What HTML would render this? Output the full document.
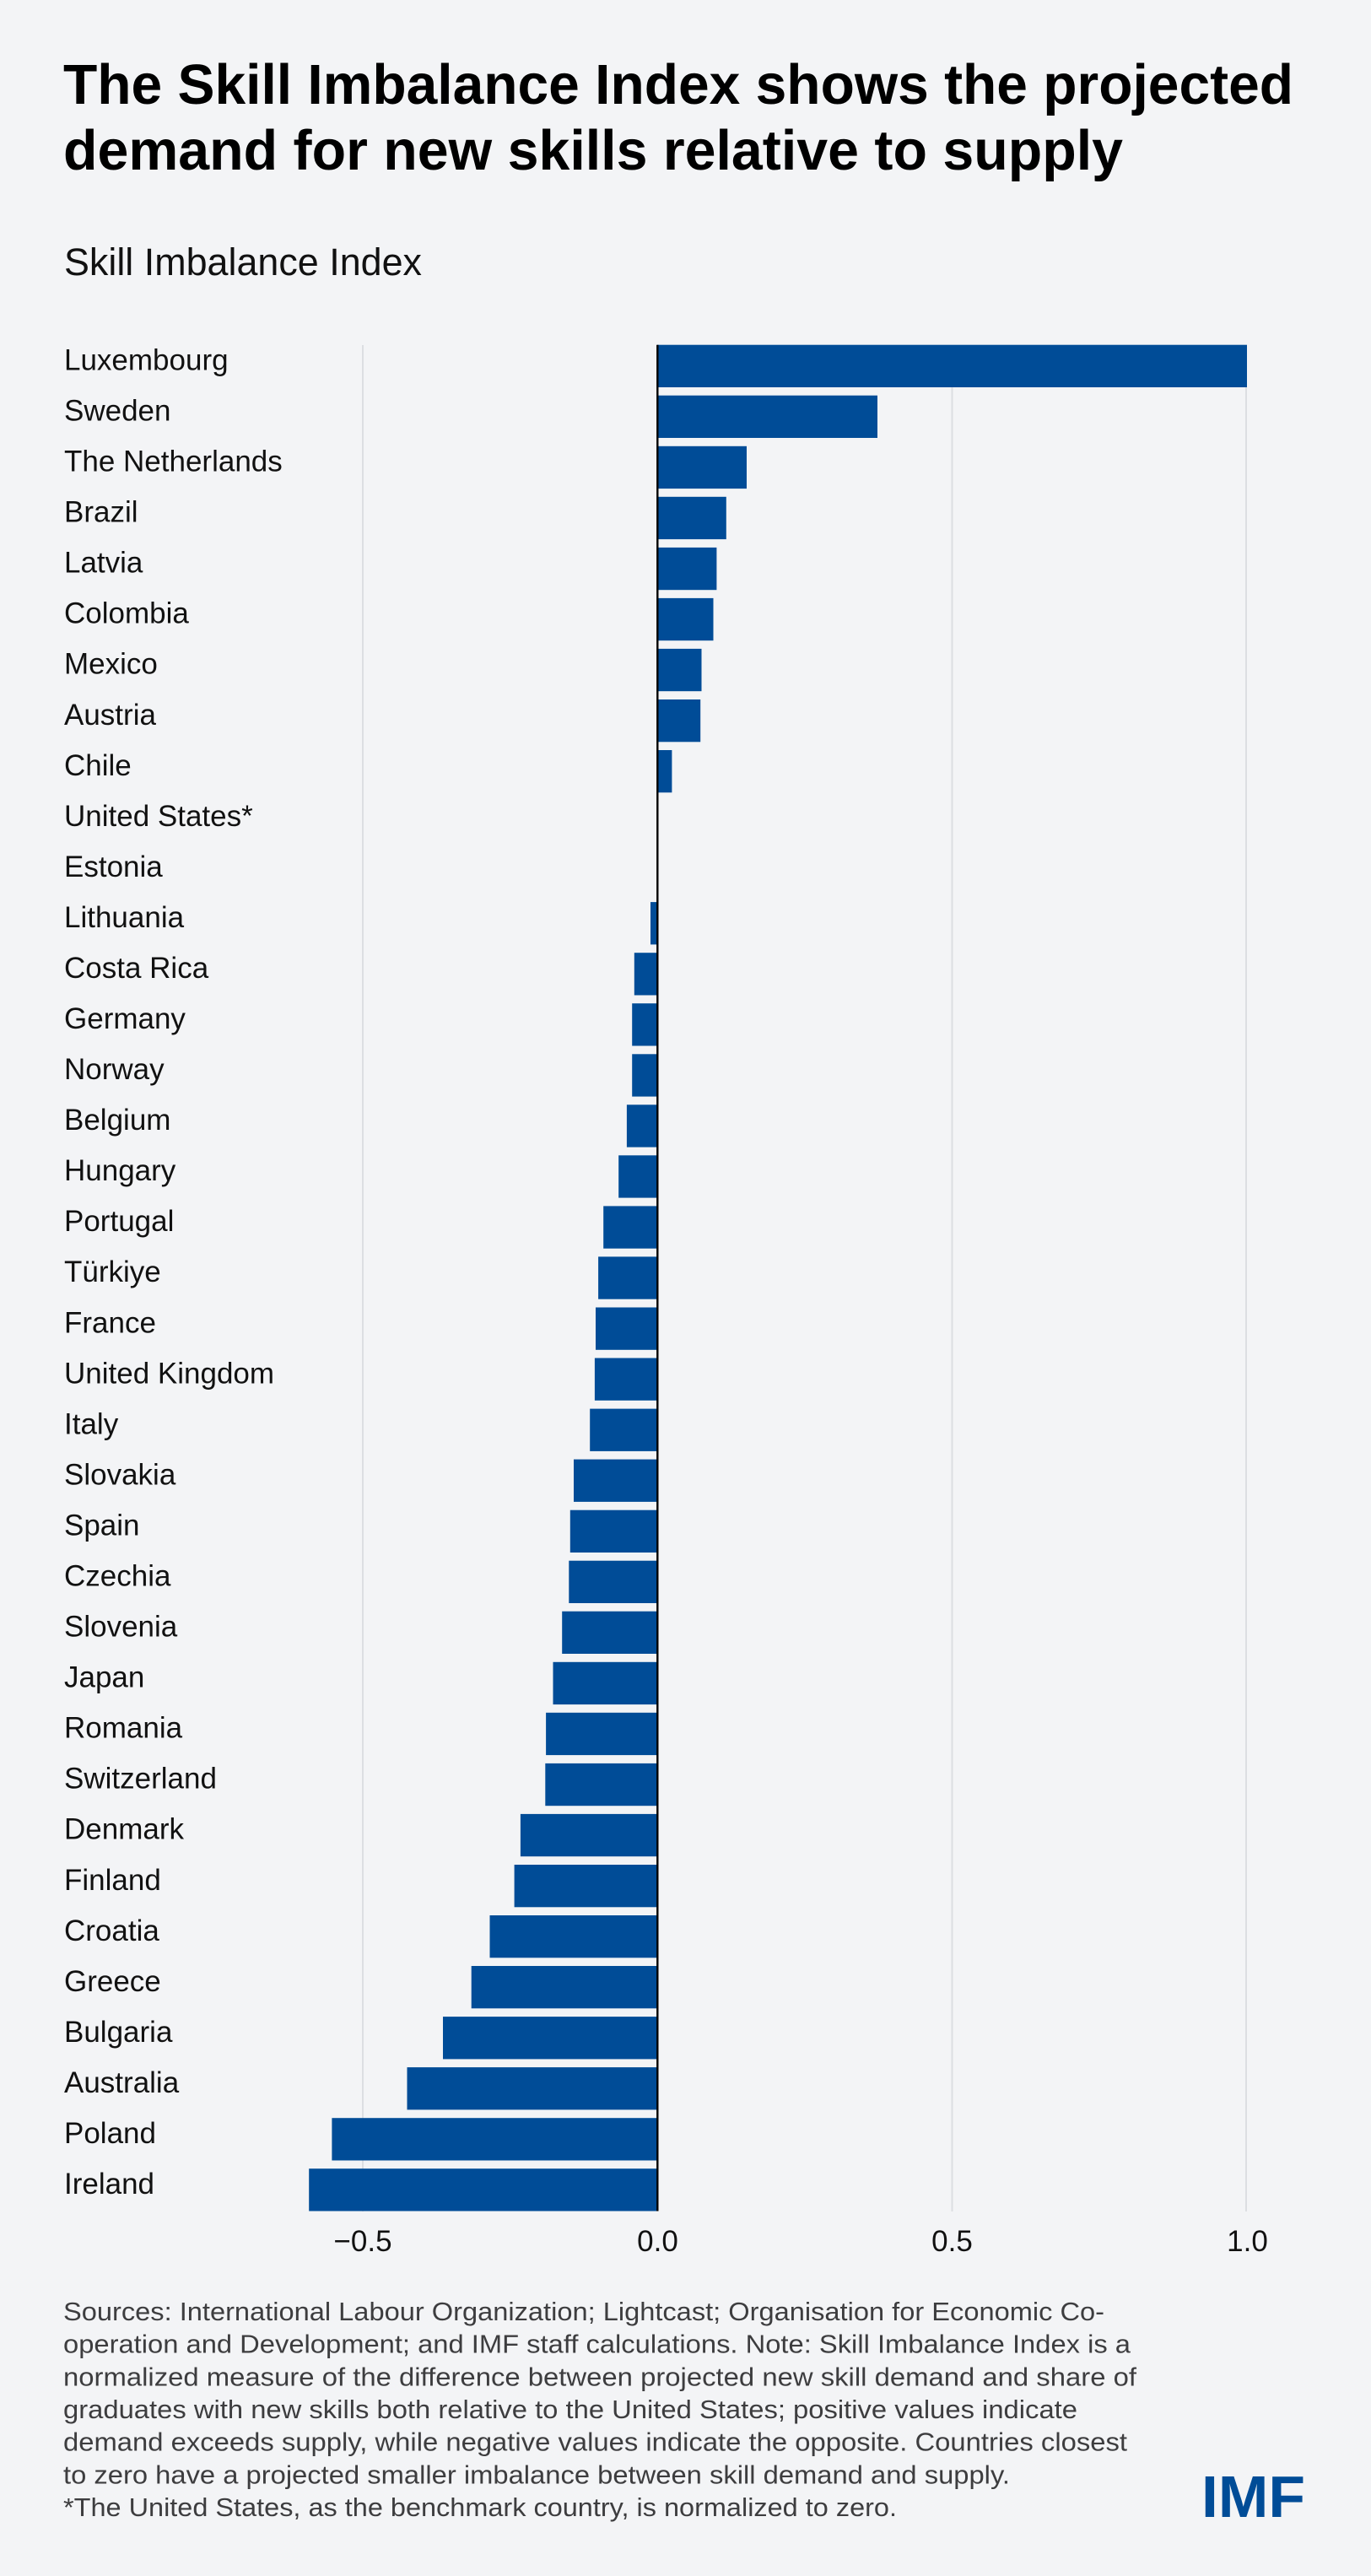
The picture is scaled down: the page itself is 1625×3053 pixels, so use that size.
<!DOCTYPE html>
<html>
<head>
<meta charset="utf-8">
<style>
  html, body { margin: 0; padding: 0; background: #f3f4f6; }
  body { width: 1625px; height: 3053px; overflow: hidden; }
  svg { display: block; }
  .lbl { font-family: "Liberation Sans", "DejaVu Sans", sans-serif; font-size: 35px; fill: #111111; }
  .tick { font-family: "Liberation Sans", "DejaVu Sans", sans-serif; font-size: 35px; fill: #111111; text-anchor: middle; }
  .foot { font-family: "Liberation Sans", "DejaVu Sans", sans-serif; font-size: 31px; fill: #3d3d3f; }
  .title { font-family: "Liberation Sans", "DejaVu Sans", sans-serif; font-size: 67px; font-weight: bold; fill: #000000; }
  .sub { font-family: "Liberation Sans", "DejaVu Sans", sans-serif; font-size: 45px; fill: #111111; }
  .imf { font-family: "Liberation Sans", "DejaVu Sans", sans-serif; font-size: 70px; font-weight: bold; fill: #004c97; }
</style>
</head>
<body>
<svg width="1625" height="3053" viewBox="0 0 1625 3053" xmlns="http://www.w3.org/2000/svg">
  <rect x="0" y="0" width="1625" height="3053" fill="#f3f4f6"/>

  <!-- Title -->
  <text class="title" x="75" y="123" textLength="1458" lengthAdjust="spacingAndGlyphs">The Skill Imbalance Index shows the projected</text>
  <text class="title" x="75" y="201" textLength="1256" lengthAdjust="spacingAndGlyphs">demand for new skills relative to supply</text>

  <!-- Subtitle -->
  <text class="sub" x="76" y="326" textLength="424" lengthAdjust="spacingAndGlyphs">Skill Imbalance Index</text>

  <!-- Gridlines -->
  <g stroke="#dcdee2" stroke-width="2">
    <line x1="430" y1="409" x2="430" y2="2621"/>
    <line x1="1128.5" y1="409" x2="1128.5" y2="2621"/>
    <line x1="1477" y1="409" x2="1477" y2="2621"/>
  </g>

  <!-- Bars -->
  <g fill="#004c97">
    <rect x="779" y="408.7" width="699" height="50.3"/>
    <rect x="779" y="468.7" width="261" height="50.3"/>
    <rect x="779" y="528.8" width="106" height="50.3"/>
    <rect x="779" y="588.8" width="81.8" height="50.3"/>
    <rect x="779" y="648.9" width="70.4" height="50.3"/>
    <rect x="779" y="708.9" width="66.5" height="50.3"/>
    <rect x="779" y="768.9" width="52.5" height="50.3"/>
    <rect x="779" y="829.0" width="51.2" height="50.3"/>
    <rect x="779" y="889.0" width="17.4" height="50.3"/>
    <!-- United States: 0 -->
    <!-- Estonia: 0 -->
    <rect x="771" y="1069.1" width="8" height="50.3"/>
    <rect x="751.8" y="1129.2" width="27.2" height="50.3"/>
    <rect x="749.2" y="1189.2" width="29.8" height="50.3"/>
    <rect x="749.2" y="1249.3" width="29.8" height="50.3"/>
    <rect x="742.9" y="1309.3" width="36.1" height="50.3"/>
    <rect x="733.2" y="1369.3" width="45.8" height="50.3"/>
    <rect x="715.2" y="1429.4" width="63.8" height="50.3"/>
    <rect x="709.1" y="1489.4" width="69.9" height="50.3"/>
    <rect x="706" y="1549.5" width="73" height="50.3"/>
    <rect x="704.9" y="1609.5" width="74.1" height="50.3"/>
    <rect x="699.2" y="1669.6" width="79.8" height="50.3"/>
    <rect x="680" y="1729.6" width="99" height="50.3"/>
    <rect x="675.8" y="1789.7" width="103.2" height="50.3"/>
    <rect x="674.3" y="1849.7" width="104.7" height="50.3"/>
    <rect x="666.2" y="1909.7" width="112.8" height="50.3"/>
    <rect x="655.5" y="1969.8" width="123.5" height="50.3"/>
    <rect x="647.1" y="2029.8" width="131.9" height="50.3"/>
    <rect x="646.3" y="2089.9" width="132.7" height="50.3"/>
    <rect x="616.9" y="2149.9" width="162.1" height="50.3"/>
    <rect x="609.6" y="2210.0" width="169.4" height="50.3"/>
    <rect x="580.5" y="2270.0" width="198.5" height="50.3"/>
    <rect x="558.7" y="2330.0" width="220.3" height="50.3"/>
    <rect x="525" y="2390.1" width="254" height="50.3"/>
    <rect x="482.5" y="2450.1" width="296.5" height="50.3"/>
    <rect x="393.4" y="2510.2" width="385.6" height="50.3"/>
    <rect x="366.2" y="2570.2" width="412.8" height="50.3"/>
  </g>

  <!-- Zero axis -->
  <line x1="779.3" y1="408.7" x2="779.3" y2="2620.5" stroke="#000000" stroke-width="2.4"/>

  <!-- Country labels -->
  <g class="lbl">
    <text x="76" y="438.5">Luxembourg</text>
    <text x="76" y="498.5">Sweden</text>
    <text x="76" y="558.6">The Netherlands</text>
    <text x="76" y="618.6">Brazil</text>
    <text x="76" y="678.7">Latvia</text>
    <text x="76" y="738.7">Colombia</text>
    <text x="76" y="798.7">Mexico</text>
    <text x="76" y="858.8">Austria</text>
    <text x="76" y="918.8">Chile</text>
    <text x="76" y="978.9">United States*</text>
    <text x="76" y="1038.9">Estonia</text>
    <text x="76" y="1098.9">Lithuania</text>
    <text x="76" y="1159.0">Costa Rica</text>
    <text x="76" y="1219.0">Germany</text>
    <text x="76" y="1279.1">Norway</text>
    <text x="76" y="1339.1">Belgium</text>
    <text x="76" y="1399.1">Hungary</text>
    <text x="76" y="1459.2">Portugal</text>
    <text x="76" y="1519.2">Türkiye</text>
    <text x="76" y="1579.3">France</text>
    <text x="76" y="1639.3">United Kingdom</text>
    <text x="76" y="1699.4">Italy</text>
    <text x="76" y="1759.4">Slovakia</text>
    <text x="76" y="1819.5">Spain</text>
    <text x="76" y="1879.5">Czechia</text>
    <text x="76" y="1939.5">Slovenia</text>
    <text x="76" y="1999.6">Japan</text>
    <text x="76" y="2059.6">Romania</text>
    <text x="76" y="2119.7">Switzerland</text>
    <text x="76" y="2179.7">Denmark</text>
    <text x="76" y="2239.8">Finland</text>
    <text x="76" y="2299.8">Croatia</text>
    <text x="76" y="2359.8">Greece</text>
    <text x="76" y="2419.9">Bulgaria</text>
    <text x="76" y="2479.9">Australia</text>
    <text x="76" y="2540.0">Poland</text>
    <text x="76" y="2600.0">Ireland</text>
  </g>

  <!-- Tick labels -->
  <g class="tick">
    <text x="430" y="2668">−0.5</text>
    <text x="779.5" y="2668">0.0</text>
    <text x="1128.5" y="2668">0.5</text>
    <text x="1478.5" y="2668">1.0</text>
  </g>

  <!-- Footnote -->
  <g class="foot">
    <text x="75" y="2750" textLength="1234" lengthAdjust="spacingAndGlyphs">Sources: International Labour Organization; Lightcast; Organisation for Economic Co-</text>
    <text x="75" y="2788.7" textLength="1265" lengthAdjust="spacingAndGlyphs">operation and Development; and IMF staff calculations. Note: Skill Imbalance Index is a</text>
    <text x="75" y="2827.4" textLength="1272" lengthAdjust="spacingAndGlyphs">normalized measure of the difference between projected new skill demand and share of</text>
    <text x="75" y="2866" textLength="1202" lengthAdjust="spacingAndGlyphs">graduates with new skills both relative to the United States; positive values indicate</text>
    <text x="75" y="2904.7" textLength="1261" lengthAdjust="spacingAndGlyphs">demand exceeds supply, while negative values indicate the opposite. Countries closest</text>
    <text x="75" y="2943.4" textLength="1122" lengthAdjust="spacingAndGlyphs">to zero have a projected smaller imbalance between skill demand and supply.</text>
    <text x="75" y="2982" textLength="988" lengthAdjust="spacingAndGlyphs">*The United States, as the benchmark country, is normalized to zero.</text>
  </g>

  <!-- IMF logo -->
  <text class="imf" x="1424" y="2983" textLength="123" lengthAdjust="spacingAndGlyphs">IMF</text>
</svg>
</body>
</html>
